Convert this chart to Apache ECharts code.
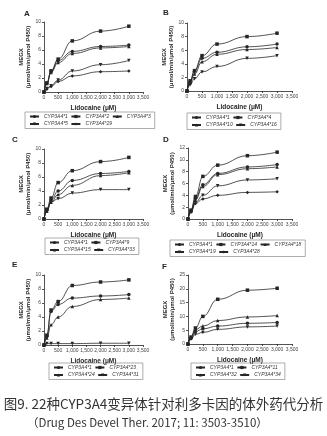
<!DOCTYPE html>
<html><head><meta charset="utf-8">
<script src="https://cdn.jsdelivr.net/npm/echarts@6/dist/echarts.min.js"></script>
<style>html,body{margin:0;padding:0;background:#fff;}#c{width:327px;height:436px;}</style>
</head><body><div id="c"></div>
<script>
// Lidocaine concentrations (μM)
const xConc = [0, 100, 250, 500, 1000, 2000, 3000];
const xTicks = [0, 500, 1000, 1500, 2000, 2500, 3000, 3500];

const namesA = ['CYP3A4*1', 'CYP3A4*2', 'CYP3A4*3', 'CYP3A4*5', 'CYP3A4*29'];
const valuesA = [
  [0, 1.2, 3.0, 4.5, 5.8, 6.5, 6.7],
  [0, 1.3, 3.0, 4.7, 7.3, 8.7, 9.4],
  [0, 1.2, 2.8, 4.2, 5.5, 6.3, 6.5],
  [0, 0.5, 0.9, 1.7, 3.0, 3.9, 4.5],
  [0, 0.4, 0.8, 1.5, 2.3, 2.9, 3.0]
];
const namesB = ['CYP3A4*1', 'CYP3A4*4', 'CYP3A4*10', 'CYP3A4*16'];
const valuesB = [
  [0, 1.3, 2.9, 4.8, 5.7, 6.5, 6.9],
  [0, 1.5, 3.0, 5.2, 6.9, 8.0, 8.5],
  [0, 1.2, 2.5, 4.3, 5.4, 6.1, 6.4],
  [0, 0.9, 1.8, 2.8, 3.6, 4.8, 5.2]
];
const namesC = ['CYP3A4*1', 'CYP3A4*9', 'CYP3A4*15', 'CYP3A4*33'];
const valuesC = [
  [0, 1.2, 2.7, 4.0, 5.5, 6.5, 6.8],
  [0, 1.4, 3.0, 5.2, 6.9, 8.2, 8.8],
  [0, 1.1, 2.4, 3.5, 4.8, 6.2, 6.6],
  [0, 1.2, 2.4, 2.9, 3.7, 4.2, 4.2]
];
const namesD = ['CYP3A4*1', 'CYP3A4*14', 'CYP3A4*18', 'CYP3A4*19', 'CYP3A4*28'];
const valuesD = [
  [0, 1.4, 3.5, 5.8, 7.7, 8.8, 9.2],
  [0, 1.5, 3.8, 7.2, 9.1, 10.7, 11.3],
  [0, 1.3, 3.2, 5.5, 7.5, 8.5, 8.8],
  [0, 1.2, 2.8, 4.0, 5.6, 6.6, 6.8],
  [0, 1.2, 2.6, 3.4, 4.0, 4.5, 4.6]
];
const namesE = ['CYP3A4*1', 'CYP3A4*23', 'CYP3A4*24', 'CYP3A4*31'];
const valuesE = [
  [0, 1.2, 4.8, 5.8, 6.7, 7.0, 7.2],
  [0, 1.4, 5.0, 6.2, 8.5, 9.0, 9.3],
  [0, 1.0, 2.9, 4.0, 5.5, 6.5, 6.7],
  [0, 0.2, 0.2, 0.2, 0.2, 0.25, 0.25]
];
const namesF = ['CYP3A4*1', 'CYP3A4*11', 'CYP3A4*32', 'CYP3A4*34'];
const valuesF = [
  [0, 2.0, 4.5, 5.5, 6.5, 7.5, 7.8],
  [0, 2.5, 5.8, 10.0, 16.2, 19.5, 20.2],
  [0, 2.5, 5.2, 6.5, 8.5, 9.8, 10.3],
  [0, 1.8, 3.5, 4.2, 5.3, 6.2, 6.5]
];
const yMax = [10, 10, 10, 12, 10, 25];
const yStep = [2, 2, 2, 2, 2, 5];
const panelLetters = ['A', 'B', 'C', 'D', 'E', 'F'];

const panels = [
  {names: namesA, values: valuesA},
  {names: namesB, values: valuesB},
  {names: namesC, values: valuesC},
  {names: namesD, values: valuesD},
  {names: namesE, values: valuesE},
  {names: namesF, values: valuesF}
];

// layout (pixels)
const gridBoxes = [
  {left: 44, top: 22, width: 99, height: 70},
  {left: 187, top: 23, width: 105, height: 68},
  {left: 44, top: 149, width: 99, height: 70},
  {left: 188, top: 148, width: 104, height: 71},
  {left: 44, top: 275, width: 99, height: 70},
  {left: 188, top: 275, width: 104, height: 69}
];
const letterPos = [[24, 10], [163, 9], [12, 136], [163, 136], [12, 261], [162, 263]];
const legendBoxes = [
  {left: 25, top: 112, width: 122},
  {left: 187, top: 113, width: 88},
  {left: 45, top: 238, width: 88},
  {left: 170, top: 240, width: 128},
  {left: 49, top: 363, width: 86},
  {left: 191, top: 363, width: 86}
];
const symbols = ['circle', 'rect', 'triangle', 'path://M0,0 L10,0 L5,10 Z', 'diamond'];

const ink = '#262626';
const option = {
  animation: false,
  backgroundColor: '#fff',
  textStyle: {fontFamily: 'Liberation Sans, Arial, sans-serif'},
  title: panelLetters.map((t, i) => ({
    text: t, left: letterPos[i][0], top: letterPos[i][1], padding: 0,
    textStyle: {fontSize: 8, fontWeight: 'bold', color: ink}
  })).concat([
    {text: '图9. 22种CYP3A4变异体针对利多卡因的体外药代分析', left: 'center', top: 397, padding: 0,
     textStyle: {fontSize: 13.5, fontWeight: 'normal', color: '#333', fontFamily: 'Noto Sans CJK SC'}},
    {text: '（Drug Des Devel Ther. 2017; 11: 3503-3510）', left: 27, top: 417, padding: 0,
     textStyle: {fontSize: 11.5, fontWeight: 'normal', color: '#333', fontFamily: 'Noto Sans CJK SC'}}
  ]),
  grid: gridBoxes.map(g => Object.assign({containLabel: false}, g)),
  xAxis: gridBoxes.map((g, i) => ({
    type: 'value', gridIndex: i, min: 0, max: 3500, interval: 500,
    name: 'Lidocaine (μM)', nameLocation: 'middle', nameGap: 13,
    nameTextStyle: {fontSize: 6.5, fontWeight: 'bold', color: ink},
    axisLine: {show: true, lineStyle: {color: ink, width: 0.8}},
    axisTick: {show: true, length: 2, lineStyle: {color: ink, width: 0.8}},
    axisLabel: {fontSize: 5, color: '#444', margin: 3,
      formatter: v => xTicks.indexOf(v) >= 0 ? v.toLocaleString('en-US') : ''},
    splitLine: {show: false}
  })),
  yAxis: gridBoxes.map((g, i) => ({
    type: 'value', gridIndex: i, min: 0, max: yMax[i], interval: yStep[i],
    name: 'MEGX\n(μmol/min/μmol P450)', nameLocation: 'middle', nameGap: 10, nameRotate: 90,
    nameTextStyle: {fontSize: 6, fontWeight: 'bold', color: ink, lineHeight: 7},
    axisLine: {show: true, lineStyle: {color: ink, width: 0.8}},
    axisTick: {show: true, length: 2, lineStyle: {color: ink, width: 0.8}},
    axisLabel: {fontSize: 5, color: '#444', margin: 3},
    splitLine: {show: false}
  })),
  legend: panels.map((p, i) => ({
    data: p.names, left: legendBoxes[i].left, top: legendBoxes[i].top, width: legendBoxes[i].width,
    orient: 'horizontal', itemWidth: 9, itemHeight: 4, itemGap: 2.5,
    padding: [2, 4], borderColor: '#777', borderWidth: 0.6,
    selectedMode: false,
    textStyle: {fontSize: 5, fontStyle: 'italic', color: '#333', lineHeight: 5}
  })),
  series: []
};

panels.forEach((p, i) => {
  p.names.forEach((n, k) => {
    option.series.push({
      type: 'line', name: n, xAxisIndex: i, yAxisIndex: i,
      data: xConc.map((x, j) => [x, p.values[k][j]]),
      smooth: 0.45, smoothMonotone: 'x',
      symbol: symbols[k % symbols.length], symbolSize: 3.5,
      lineStyle: {color: ink, width: 0.8},
      itemStyle: {color: ink},
      emphasis: {disabled: true}
    });
  });
});

const chart = echarts.init(document.getElementById('c'), null, {renderer: 'canvas'});
chart.setOption(option);
</script>
</body></html>
